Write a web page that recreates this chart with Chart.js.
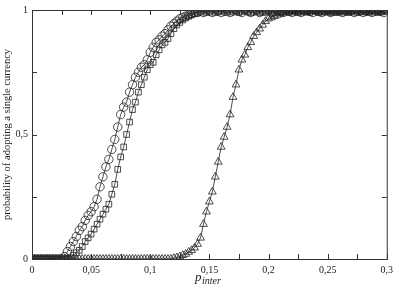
<!DOCTYPE html>
<html>
<head>
<meta charset="utf-8">
<script src="https://cdn.jsdelivr.net/npm/chart.js@4/dist/chart.umd.min.js"></script>
<style>
  html, body { margin: 0; padding: 0; background: #fff; }
  #wrap { width: 398px; height: 290px; }
</style>
</head>
<body>
<div id="wrap"><canvas id="chart"></canvas></div>
<script>
// p_inter values (x axis)
var pInter = [
  0,0.0025,0.005,0.0075,0.01,0.0125,0.015,0.0175,0.02,0.0225,
  0.025,0.0275,0.03,0.0325,0.035,0.0375,0.04,0.0425,0.045,0.0475,
  0.05,0.0525,0.055,0.0575,0.06,0.0625,0.065,0.0675,0.07,0.0725,
  0.075,0.0775,0.08,0.0825,0.085,0.0875,0.09,0.0925,0.095,0.0975,
  0.1,0.1025,0.105,0.1075,0.11,0.1125,0.115,0.1175,0.12,0.1225,
  0.125,0.1275,0.13,0.1325,0.135,0.1375,0.14,0.1425,0.145,0.1475,
  0.15,0.1525,0.155,0.1575,0.16,0.1625,0.165,0.1675,0.17,0.1725,
  0.175,0.1775,0.18,0.1825,0.185,0.1875,0.19,0.1925,0.195,0.1975,
  0.2,0.2025,0.205,0.2075,0.21,0.2125,0.215,0.2175,0.22,0.2225,
  0.225,0.2275,0.23,0.2325,0.235,0.2375,0.24,0.2425,0.245,0.2475,
  0.25,0.2525,0.255,0.2575,0.26,0.2625,0.265,0.2675,0.27,0.2725,
  0.275,0.2775,0.28,0.2825,0.285,0.2875,0.29,0.2925,0.295,0.2975,
  0.3
];

// circles
var probCircles = [
  0,0,0,0,0,0,0,0,0,0,
  0,0.01,0.03,0.05,0.07,0.09,0.115,0.13,0.155,0.175,
  0.19,0.21,0.24,0.29,0.33,0.37,0.40,0.44,0.48,0.53,
  0.58,0.61,0.63,0.67,0.70,0.73,0.75,0.77,0.78,0.80,
  0.83,0.85,0.87,0.88,0.895,0.905,0.92,0.935,0.945,0.955,
  0.965,0.97,0.975,0.98,0.985,0.99,0.99,0.995,0.99,1,
  0.995,0.99,1,0.995,0.99,0.995,1,0.99,0.995,1,
  0.995,0.99,1,0.995,0.99,0.995,1,0.99,0.995,0.995,
  1,0.99,0.995,1,0.995,0.99,1,0.995,0.99,0.995,
  1,0.99,0.995,1,0.995,0.99,1,0.995,0.99,0.995,
  1,0.99,0.995,0.995,1,0.99,0.995,1,0.995,0.99,
  1,0.995,0.99,0.995,1,0.99,0.995,1,0.995,0.99,
  1
];

// squares
var probSquares = [
  0,0,0,0,0,0,0,0,0,0,
  0,0,0,0.005,0.015,0.025,0.035,0.05,0.07,0.085,
  0.10,0.12,0.14,0.16,0.18,0.20,0.22,0.26,0.30,0.36,
  0.41,0.45,0.50,0.55,0.60,0.63,0.67,0.70,0.73,0.76,
  0.78,0.79,0.82,0.84,0.86,0.87,0.885,0.905,0.925,0.94,
  0.95,0.96,0.968,0.975,0.98,0.985,0.99,0.995,1,0.99,
  0.995,1,0.99,0.995,0.995,1,0.99,0.995,1,0.995,
  0.99,0.995,1,0.995,0.99,1,0.995,0.99,0.995,1,
  0.995,0.99,1,0.995,0.99,0.995,1,0.99,0.995,1,
  0.99,0.995,1,0.995,0.99,1,0.995,0.99,0.995,1,
  0.995,0.99,1,0.995,0.99,0.995,1,0.99,0.995,1,
  0.99,0.995,1,0.995,0.99,1,0.995,0.99,0.995,1,
  0.995
];

// triangles
var probTriangles = [
  0,0,0,0,0,0,0,0,0,0,
  0,0,0,0,0,0,0,0,0,0,
  0,0,0,0,0,0,0,0,0,0,
  0,0,0,0,0,0,0,0,0,0,
  0,0,0,0,0,0,0,0,0.003,0.006,
  0.01,0.015,0.02,0.028,0.035,0.045,0.06,0.085,0.14,0.19,
  0.23,0.27,0.33,0.39,0.45,0.49,0.53,0.58,0.65,0.70,
  0.76,0.80,0.82,0.85,0.87,0.895,0.91,0.925,0.94,0.955,
  0.965,0.97,0.975,0.98,0.985,0.99,0.99,0.995,1,0.995,
  0.99,1,0.995,0.99,0.995,1,0.995,0.99,1,0.995,
  0.99,0.995,1,0.99,0.995,1,0.995,0.99,0.995,1,
  0.995,0.99,1,0.995,0.99,0.995,1,0.995,0.99,1,
  0.995
];

var xTickStep = 0.025;
var yTickStep = 0.25;

function toPoints(ys) {
  var pts = [];
  for (var i = 0; i < pInter.length; i++) {
    pts.push({ x: pInter[i], y: ys[i] });
  }
  return pts;
}

function commaNum(v) {
  return String(Math.round(v * 1000) / 1000).replace('.', ',');
}

var ink = '#222';
var serif = "'Liberation Serif', 'DejaVu Serif', serif";

function series(ys, style, r) {
  return {
    data: toPoints(ys),
    borderColor: ink,
    borderWidth: 0.8,
    pointStyle: style,
    pointRadius: r,
    pointBorderWidth: 0.8,
    pointBorderColor: ink,
    pointBackgroundColor: 'rgba(0,0,0,0)',
    fill: false,
    tension: 0
  };
}

// frame with inward tick marks on all four sides
var framePlugin = {
  id: 'frame',
  afterDraw: function(chart) {
    var ctx = chart.ctx, a = chart.chartArea;
    var xs = chart.scales.x, ys = chart.scales.y;
    ctx.save();
    ctx.strokeStyle = '#333';
    ctx.lineWidth = 1;
    ctx.strokeRect(a.left + 0.5, a.top + 0.5, a.right - a.left, a.bottom - a.top);
    ctx.beginPath();
    xs.ticks.forEach(function(t) {
      var px = Math.round(xs.getPixelForValue(t.value)) + 0.5;
      ctx.moveTo(px, a.bottom); ctx.lineTo(px, a.bottom - 5);
      ctx.moveTo(px, a.top); ctx.lineTo(px, a.top + 5);
    });
    ys.ticks.forEach(function(t) {
      var py = Math.round(ys.getPixelForValue(t.value)) + 0.5;
      ctx.moveTo(a.left, py); ctx.lineTo(a.left + 5, py);
      ctx.moveTo(a.right, py); ctx.lineTo(a.right - 5, py);
    });
    ctx.stroke();

    // x axis title: p with subscript "inter"
    ctx.fillStyle = ink;
    ctx.textBaseline = 'alphabetic';
    ctx.font = 'italic 13px ' + serif;
    ctx.fillText('p', 195, 281);
    ctx.font = 'italic 10px ' + serif;
    ctx.fillText('inter', 202, 284);
    ctx.restore();
  }
};

var ctx = document.getElementById('chart').getContext('2d');
var chart = new Chart(ctx, {
  type: 'line',
  data: {
    datasets: [
      series(probTriangles, 'triangle', 4.5),
      series(probSquares, 'rect', 4),
      series(probCircles, 'circle', 4.2)
    ]
  },
  options: {
    responsive: true,
    maintainAspectRatio: false,
    animation: false,
    layout: { padding: { top: 10, right: 10, left: 0, bottom: 0 } },
    plugins: {
      legend: { display: false },
      tooltip: { enabled: false }
    },
    scales: {
      x: {
        type: 'linear',
        min: 0,
        max: 0.3,
        grid: { display: false, drawTicks: false },
        border: { display: false },
        ticks: {
          stepSize: xTickStep,
          padding: 5,
          color: ink,
          maxRotation: 0,
          autoSkip: false,
          font: { family: serif, size: 10 },
          callback: function(v) {
            return Math.round(v * 1000) % 50 === 0 ? commaNum(v) : '';
          }
        },
        afterFit: function(s) { s.height = 31; }
      },
      y: {
        min: 0,
        max: 1,
        grid: { display: false, drawTicks: false },
        border: { display: false },
        ticks: {
          stepSize: yTickStep,
          padding: 4,
          color: ink,
          font: { family: serif, size: 10 },
          callback: function(v) {
            return Math.round(v * 100) % 50 === 0 ? commaNum(v) : '';
          }
        },
        title: {
          display: true,
          text: 'probability of adopting a single currency',
          color: ink,
          font: { family: serif, size: 10.5 },
          padding: { top: 1, bottom: 0 }
        },
        afterFit: function(s) { s.width = 32; }
      }
    }
  },
  plugins: [framePlugin]
});
</script>
</body>
</html>
